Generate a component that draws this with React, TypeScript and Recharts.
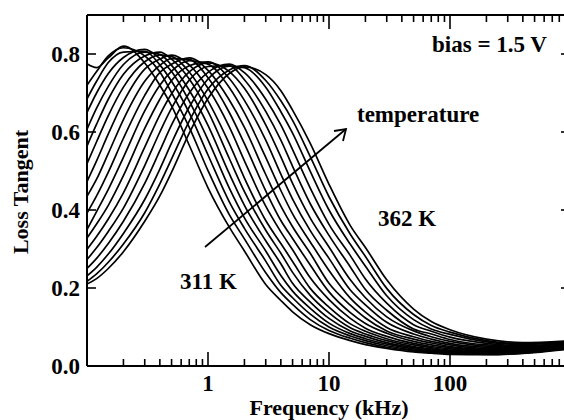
import React from 'react';
import { LineChart, Line, XAxis, YAxis } from 'recharts';

// frequency (kHz) at which every curve is sampled
const freqs = [0.1, 0.12, 0.15, 0.2, 0.3, 0.4, 0.5, 0.7, 1, 1.5, 2, 3, 4, 5, 7, 10, 15, 20, 30, 50, 70, 100, 200, 400, 1000];

// loss tangent per temperature (K)
const t311 = [0.775, 0.765, 0.79, 0.82, 0.777, 0.72, 0.667, 0.566, 0.457, 0.356, 0.295, 0.209, 0.168, 0.139, 0.106, 0.083, 0.065, 0.055, 0.045, 0.036, 0.033, 0.030, 0.029, 0.032, 0.044];
const t314 = [0.72, 0.755, 0.795, 0.816, 0.795, 0.754, 0.701, 0.612, 0.501, 0.388, 0.326, 0.239, 0.188, 0.158, 0.119, 0.091, 0.071, 0.060, 0.048, 0.039, 0.035, 0.032, 0.030, 0.033, 0.045];
const t317 = [0.685, 0.73, 0.778, 0.805, 0.807, 0.772, 0.730, 0.649, 0.541, 0.421, 0.353, 0.269, 0.207, 0.175, 0.133, 0.100, 0.077, 0.065, 0.052, 0.041, 0.037, 0.033, 0.031, 0.034, 0.046];
const t320 = [0.650, 0.700, 0.750, 0.791, 0.812, 0.788, 0.755, 0.679, 0.580, 0.456, 0.380, 0.295, 0.232, 0.192, 0.148, 0.110, 0.083, 0.070, 0.056, 0.044, 0.039, 0.035, 0.033, 0.035, 0.047];
const t323 = [0.607, 0.661, 0.717, 0.773, 0.805, 0.799, 0.771, 0.707, 0.617, 0.493, 0.412, 0.321, 0.262, 0.212, 0.164, 0.122, 0.090, 0.076, 0.060, 0.047, 0.041, 0.037, 0.034, 0.036, 0.048];
const t326 = [0.564, 0.620, 0.684, 0.748, 0.795, 0.805, 0.787, 0.736, 0.653, 0.532, 0.447, 0.348, 0.289, 0.240, 0.181, 0.136, 0.098, 0.082, 0.065, 0.050, 0.044, 0.039, 0.035, 0.037, 0.049];
const t329 = [0.519, 0.575, 0.642, 0.715, 0.780, 0.798, 0.794, 0.754, 0.680, 0.570, 0.482, 0.373, 0.314, 0.268, 0.199, 0.151, 0.108, 0.089, 0.070, 0.054, 0.047, 0.041, 0.037, 0.038, 0.050];
const t332 = [0.473, 0.526, 0.595, 0.677, 0.761, 0.787, 0.797, 0.772, 0.712, 0.613, 0.526, 0.410, 0.344, 0.298, 0.226, 0.170, 0.122, 0.097, 0.076, 0.058, 0.050, 0.044, 0.039, 0.039, 0.051];
const t335 = [0.435, 0.479, 0.545, 0.632, 0.730, 0.771, 0.788, 0.786, 0.739, 0.650, 0.570, 0.449, 0.373, 0.327, 0.259, 0.190, 0.137, 0.109, 0.084, 0.063, 0.054, 0.047, 0.041, 0.041, 0.052];
const t338 = [0.392, 0.436, 0.497, 0.584, 0.694, 0.753, 0.774, 0.790, 0.758, 0.682, 0.612, 0.491, 0.410, 0.357, 0.289, 0.212, 0.156, 0.123, 0.090, 0.069, 0.059, 0.050, 0.043, 0.042, 0.053];
const t341 = [0.350, 0.396, 0.453, 0.535, 0.654, 0.720, 0.756, 0.783, 0.774, 0.714, 0.649, 0.535, 0.450, 0.390, 0.318, 0.245, 0.174, 0.138, 0.099, 0.075, 0.063, 0.054, 0.045, 0.044, 0.054];
const t344 = [0.328, 0.364, 0.412, 0.488, 0.609, 0.684, 0.732, 0.770, 0.780, 0.737, 0.681, 0.579, 0.492, 0.428, 0.347, 0.276, 0.195, 0.157, 0.112, 0.082, 0.069, 0.058, 0.048, 0.046, 0.055];
const t347 = [0.299, 0.332, 0.377, 0.444, 0.561, 0.644, 0.698, 0.754, 0.777, 0.755, 0.712, 0.618, 0.536, 0.468, 0.379, 0.305, 0.221, 0.175, 0.126, 0.090, 0.075, 0.063, 0.051, 0.048, 0.057];
const t350 = [0.273, 0.303, 0.345, 0.405, 0.514, 0.600, 0.661, 0.733, 0.768, 0.770, 0.734, 0.653, 0.579, 0.512, 0.416, 0.335, 0.254, 0.196, 0.143, 0.095, 0.082, 0.068, 0.054, 0.050, 0.058];
const t353 = [0.250, 0.276, 0.314, 0.371, 0.468, 0.552, 0.618, 0.700, 0.753, 0.774, 0.752, 0.684, 0.618, 0.555, 0.456, 0.363, 0.283, 0.223, 0.161, 0.106, 0.089, 0.074, 0.058, 0.052, 0.060];
const t356 = [0.231, 0.253, 0.287, 0.340, 0.427, 0.505, 0.572, 0.664, 0.736, 0.769, 0.765, 0.715, 0.652, 0.597, 0.499, 0.400, 0.312, 0.256, 0.180, 0.119, 0.095, 0.081, 0.062, 0.055, 0.062];
const t359 = [0.217, 0.236, 0.266, 0.313, 0.393, 0.467, 0.531, 0.628, 0.710, 0.759, 0.770, 0.732, 0.680, 0.630, 0.537, 0.434, 0.338, 0.281, 0.199, 0.132, 0.104, 0.087, 0.065, 0.057, 0.063];
const t362 = [0.210, 0.224, 0.250, 0.293, 0.371, 0.436, 0.497, 0.597, 0.686, 0.750, 0.767, 0.747, 0.706, 0.656, 0.571, 0.466, 0.360, 0.304, 0.221, 0.146, 0.114, 0.093, 0.069, 0.060, 0.065];

const series = [
  { key: 't311', values: t311 }, { key: 't314', values: t314 }, { key: 't317', values: t317 },
  { key: 't320', values: t320 }, { key: 't323', values: t323 }, { key: 't326', values: t326 },
  { key: 't329', values: t329 }, { key: 't332', values: t332 }, { key: 't335', values: t335 },
  { key: 't338', values: t338 }, { key: 't341', values: t341 }, { key: 't344', values: t344 },
  { key: 't347', values: t347 }, { key: 't350', values: t350 }, { key: 't353', values: t353 },
  { key: 't356', values: t356 }, { key: 't359', values: t359 }, { key: 't362', values: t362 },
];

// axis ticks: decades with minor ticks, and y major ticks
const xTicks = [0.2, 0.3, 0.4, 0.5, 0.6, 0.7, 0.8, 0.9, 1, 2, 3, 4, 5, 6, 7, 8, 9, 10, 20, 30, 40, 50, 60, 70, 80, 90, 100, 200, 300, 400, 500, 600, 700, 800, 900, 1000];
const xLabels = [1, 10, 100];
const yTicks = [0, 0.2, 0.4, 0.6, 0.8];

const data = freqs.map((f, i) => {
  const row: Record<string, number> = { f };
  series.forEach((s) => { row[s.key] = s.values[i]; });
  return row;
});

const FONT = '"Liberation Serif", "Times New Roman", serif';
const textStyle = { fontFamily: FONT, fontWeight: 700, fontSize: 23, fill: '#000' };
const titleStyle = { ...textStyle, fontSize: 22 };

const isDecade = (v: number) => Math.abs(Math.log10(v) - Math.round(Math.log10(v))) < 1e-6;

const BottomTick = (props: any) => {
  const { x, y, payload } = props;
  const v = payload.value;
  const len = isDecade(v) ? 14 : 7;
  return (
    <g>
      <line x1={x} x2={x} y1={y} y2={y - len} stroke="#000" strokeWidth={1.6} />
      {xLabels.includes(v) && (
        <text x={x} y={y + 25} textAnchor="middle" style={textStyle}>{v}</text>
      )}
    </g>
  );
};

const TopTick = (props: any) => {
  const { x, y, payload } = props;
  const len = isDecade(payload.value) ? 14 : 7;
  return <line x1={x} x2={x} y1={y} y2={y + len} stroke="#000" strokeWidth={1.6} />;
};

const LeftTick = (props: any) => {
  const { x, y, payload } = props;
  return (
    <g>
      <line x1={x} x2={x + 9} y1={y} y2={y} stroke="#000" strokeWidth={1.6} />
      <text x={x - 7} y={y + 8} textAnchor="end" style={textStyle}>{payload.value.toFixed(1)}</text>
    </g>
  );
};

const RightTick = (props: any) => {
  const { x, y } = props;
  return <line x1={x} x2={x - 10} y1={y} y2={y} stroke="#000" strokeWidth={1.6} />;
};

const axisLine = { stroke: '#000', strokeWidth: 2 };

export default function App() {
  return (
    <div style={{ position: 'absolute', left: 0, top: 0, width: 564, height: 420, overflow: 'hidden', background: '#fff' }}>
      <LineChart width={620} height={420} data={data} margin={{ top: 0, right: 0, bottom: 0, left: 0 }}>
        <XAxis xAxisId="bottom" dataKey="f" type="number" scale="log" domain={[0.1, 1000]} allowDataOverflow
          ticks={xTicks} interval={0} height={54} tickLine={false} tickSize={0} tickMargin={0}
          axisLine={axisLine} tick={<BottomTick />} />
        <XAxis xAxisId="top" orientation="top" dataKey="f" type="number" scale="log" domain={[0.1, 1000]} allowDataOverflow
          ticks={xTicks} interval={0} height={15} tickLine={false} tickSize={0} tickMargin={0}
          axisLine={axisLine} tick={<TopTick />} />
        <YAxis yAxisId="left" type="number" domain={[0, 0.9]} allowDataOverflow ticks={yTicks} interval={0}
          width={87} tickLine={false} tickSize={0} tickMargin={0} axisLine={axisLine} tick={<LeftTick />} />
        <YAxis yAxisId="right" orientation="right" type="number" domain={[0, 0.9]} allowDataOverflow ticks={yTicks} interval={0}
          width={49} tickLine={false} tickSize={0} tickMargin={0} axisLine={axisLine} tick={<RightTick />} />
        {series.map((s, i) => (
          <Line key={s.key} dataKey={s.key} type="monotone"
            xAxisId={i === series.length - 1 ? 'top' : 'bottom'}
            yAxisId={i === series.length - 1 ? 'right' : 'left'}
            stroke="#000" strokeWidth={1.7} dot={false} activeDot={false} isAnimationActive={false} />
        ))}
      </LineChart>
      <svg width={564} height={420} style={{ position: 'absolute', left: 0, top: 0, pointerEvents: 'none' }}>
        <text x={432} y={52} style={textStyle}>bias = 1.5 V</text>
        <text x={357} y={122} style={textStyle}>temperature</text>
        <text x={378} y={226} style={textStyle}>362 K</text>
        <text x={180} y={289} style={textStyle}>311 K</text>
        <line x1={205} y1={247} x2={346} y2={129} stroke="#000" strokeWidth={1.8} />
        <path d="M334,131 L346,129 L343,141" fill="none" stroke="#000" strokeWidth={1.8} />
        <text x={329} y={415} textAnchor="middle" style={titleStyle}>Frequency (kHz)</text>
        <text transform="translate(28,192) rotate(-90)" textAnchor="middle" style={titleStyle}>Loss Tangent</text>
      </svg>
    </div>
  );
}
